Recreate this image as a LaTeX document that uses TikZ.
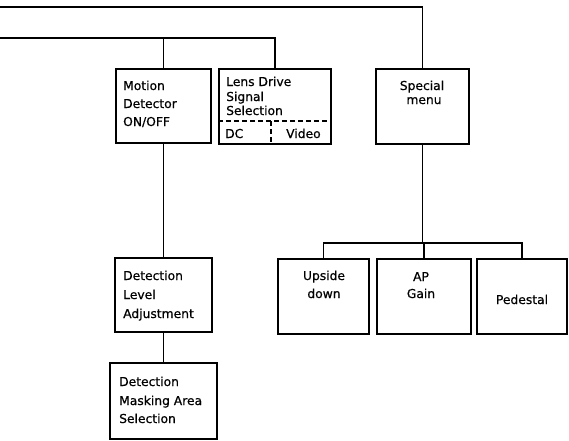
\documentclass[tikz,border=0pt]{standalone}
\usepackage{fontspec}
\setmainfont{DejaVu Sans}[FakeBold=0.6]
\begin{document}
\begin{tikzpicture}[x=1pt,y=-1pt,
  box/.style={draw,line width=1.8pt,rectangle,inner sep=0pt},
  wire/.style={line width=1.8pt},
  sep/.style={line width=1.4pt,dash pattern=on 5pt off 3pt},
  txt/.style={inner sep=0pt,font=\fontsize{12.3}{14}\selectfont}]
\useasboundingbox (0,0) rectangle (569,440);
% boxes
\node[box,minimum width=95pt,minimum height=74pt] (motion) at (163.5,106) {};
\node[box,minimum width=112pt,minimum height=75pt] (lens) at (275,106.5) {};
\node[box,minimum width=93pt,minimum height=75pt] (special) at (422.5,106.5) {};
\node[box,minimum width=97pt,minimum height=74pt] (level) at (163.5,295) {};
\node[box,minimum width=107pt,minimum height=76pt] (mask) at (163.5,401) {};
\node[box,minimum width=91pt,minimum height=75pt] (upside) at (323.5,296.5) {};
\node[box,minimum width=94pt,minimum height=75pt] (ap) at (424,296.5) {};
\node[box,minimum width=90pt,minimum height=75pt] (ped) at (522,296.5) {};
% lens inner separators
\coordinate (lsep) at (271,121);
\draw[sep] (lens.west |- lsep) -- (lens.east |- lsep);
\draw[sep] (lsep) -- (lsep |- lens.south);
% texts
\node[txt,anchor=base west] (t1) at (123,90) {Motion};
\node[txt,anchor=base west] (t2) at (123,108) {Detector};
\node[txt,anchor=base west] (t3) at (123,126) {ON/OFF};
\node[txt,anchor=base west] (t4) at (226,86) {Lens Drive};
\node[txt,anchor=base west] (t5) at (226,101) {Signal};
\node[txt,anchor=base west] (t6) at (226,115) {Selection};
\node[txt,anchor=base west] (t7) at (225,138) {DC};
\node[txt,anchor=base west] (t8) at (286,138) {Video};
\node[txt,anchor=base] (t9) at (422,90) {Special};
\node[txt,anchor=base] (t10) at (424,104) {menu};
\node[txt,anchor=base west] (t11) at (123,280) {Detection};
\node[txt,anchor=base west] (t12) at (123,299) {Level};
\node[txt,anchor=base west] (t13) at (123,318) {Adjustment};
\node[txt,anchor=base west] (t14) at (119,386) {Detection};
\node[txt,anchor=base west] (t15) at (119,405) {Masking Area};
\node[txt,anchor=base west] (t16) at (119,423) {Selection};
\node[txt,anchor=base] (t17) at (324,280) {Upside};
\node[txt,anchor=base] (t18) at (324,298) {down};
\node[txt,anchor=base] (t19) at (421,281) {AP};
\node[txt,anchor=base] (t20) at (421,298) {Gain};
\node[txt,anchor=base] (t21) at (522,304) {Pedestal};
% connectors
\coordinate (top) at (0,7);
\coordinate (mid) at (0,38);
\coordinate (bar) at (422.5,243);
\draw[wire] (top) -| (special.north);
\draw[wire] (mid) -| (lens.north);
\draw[wire] (motion.north) -- (motion.north |- mid);
\draw[wire] (motion.south) -- (level.north);
\draw[wire] (level.south) -- (mask.north);
\draw[wire] (special.south) -- (bar);
\draw[wire] (upside.north) |- (bar) -| (ped.north);
\draw[wire] (ap.north) -- (ap.north |- bar);
\end{tikzpicture}
\end{document}
